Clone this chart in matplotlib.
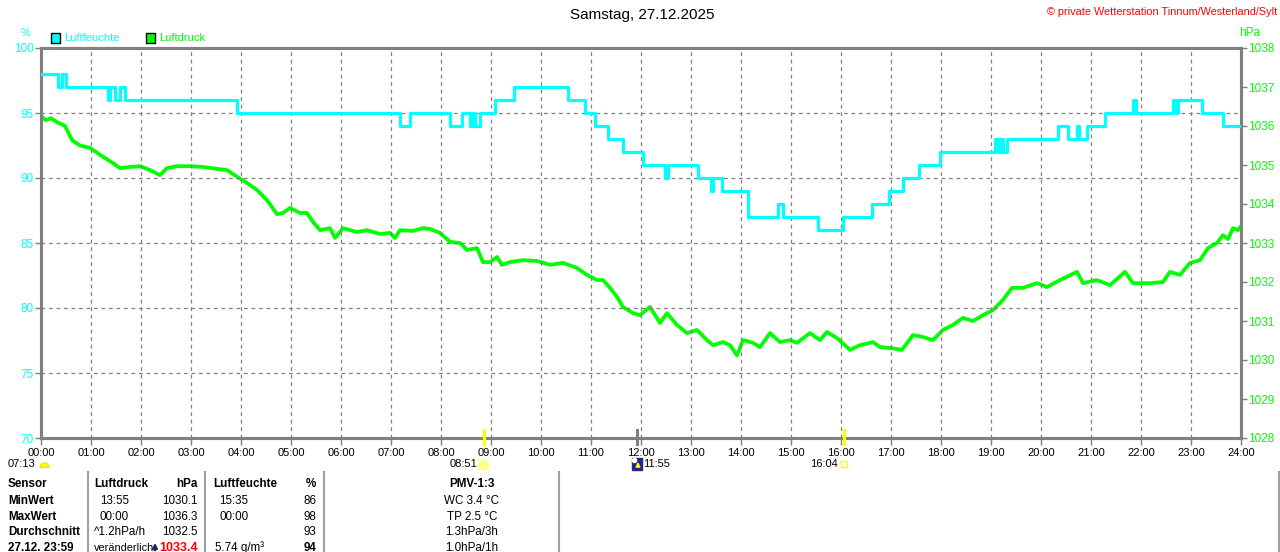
import matplotlib
matplotlib.use('Agg')
import matplotlib.pyplot as plt
from matplotlib.patches import Rectangle, Wedge

plt.rcParams['font.family'] = ['Liberation Sans', 'DejaVu Sans']

# humidity (%) as steps: time in hours, value from that time on
hum_t = [0.00, 0.34, 0.42, 0.50, 1.34, 1.38, 1.48, 1.58, 1.68, 3.92, 7.18, 7.38,
         8.18, 8.42, 8.58, 8.64, 8.68, 8.78, 9.08, 9.46, 10.54, 10.88, 11.08, 11.34,
         11.64, 12.04, 12.48, 12.54, 13.14, 13.40, 13.44, 13.62, 14.14, 14.74, 14.84,
         15.54, 16.04, 16.62, 16.96, 17.24, 17.56, 17.98, 19.08, 19.14, 19.18, 19.24,
         19.32, 20.34, 20.54, 20.72, 20.76, 20.92, 21.28, 21.84, 21.90, 22.64, 22.70,
         22.74, 23.22, 23.64, 24.00]
hum_v = [98, 97, 98, 97, 96, 97, 96, 97, 96, 95, 94, 95,
         94, 95, 94, 95, 94, 95, 96, 97, 96, 95, 94, 93,
         92, 91, 90, 91, 90, 89, 90, 89, 87, 88, 87,
         86, 87, 88, 89, 90, 91, 92, 93, 92, 93, 92,
         93, 94, 93, 94, 93, 94, 95, 96, 95, 96, 95,
         96, 95, 94, 94]

# pressure (hPa)
p_t = [0.00, 0.10, 0.20, 0.32, 0.48, 0.62, 0.78, 0.98, 1.18, 1.44, 1.58, 1.78, 1.98,
       2.18, 2.38, 2.52, 2.72, 2.98, 3.24, 3.52, 3.72, 3.92, 4.12, 4.32, 4.52, 4.72,
       4.84, 4.98, 5.18, 5.32, 5.44, 5.58, 5.78, 5.88, 6.04, 6.32, 6.52, 6.78, 6.98,
       7.08, 7.18, 7.44, 7.64, 7.78, 7.98, 8.18, 8.38, 8.52, 8.72, 8.84, 8.98, 9.12,
       9.22, 9.38, 9.64, 9.92, 10.18, 10.44, 10.72, 10.92, 11.12, 11.24, 11.38, 11.52,
       11.64, 11.84, 11.98, 12.18, 12.38, 12.52, 12.72, 12.92, 13.12, 13.32, 13.44,
       13.64, 13.78, 13.92, 14.04, 14.24, 14.38, 14.58, 14.78, 14.98, 15.12, 15.38,
       15.58, 15.72, 15.92, 16.18, 16.38, 16.64, 16.78, 16.98, 17.22, 17.44, 17.64,
       17.84, 18.04, 18.24, 18.44, 18.64, 18.84, 19.04, 19.24, 19.42, 19.64, 19.92,
       20.12, 20.38, 20.72, 20.84, 21.12, 21.38, 21.68, 21.84, 22.18, 22.44, 22.58,
       22.78, 22.98, 23.18, 23.34, 23.52, 23.64, 23.74, 23.84, 23.94, 23.98]
p_v = [1036.25, 1036.15, 1036.20, 1036.10, 1036.00, 1035.64, 1035.50, 1035.44, 1035.26,
       1035.05, 1034.92, 1034.95, 1034.97, 1034.87, 1034.74, 1034.92, 1034.97, 1034.97,
       1034.95, 1034.90, 1034.87, 1034.70, 1034.54, 1034.36, 1034.10, 1033.74, 1033.77,
       1033.90, 1033.77, 1033.77, 1033.54, 1033.33, 1033.38, 1033.13, 1033.38, 1033.28,
       1033.33, 1033.23, 1033.26, 1033.13, 1033.33, 1033.31, 1033.38, 1033.36, 1033.26,
       1033.03, 1033.00, 1032.82, 1032.87, 1032.51, 1032.51, 1032.64, 1032.44, 1032.51,
       1032.56, 1032.54, 1032.44, 1032.49, 1032.36, 1032.18, 1032.05, 1032.05, 1031.85,
       1031.62, 1031.36, 1031.20, 1031.15, 1031.36, 1030.95, 1031.20, 1030.90, 1030.69,
       1030.77, 1030.51, 1030.38, 1030.46, 1030.38, 1030.12, 1030.51, 1030.44, 1030.33,
       1030.69, 1030.46, 1030.51, 1030.44, 1030.69, 1030.51, 1030.72, 1030.56, 1030.26,
       1030.38, 1030.46, 1030.33, 1030.31, 1030.26, 1030.64, 1030.59, 1030.51, 1030.77,
       1030.90, 1031.08, 1031.00, 1031.15, 1031.28, 1031.54, 1031.85, 1031.85, 1031.97,
       1031.87, 1032.05, 1032.26, 1031.97, 1032.05, 1031.92, 1032.26, 1031.97, 1031.97,
       1032.00, 1032.26, 1032.18, 1032.49, 1032.56, 1032.87, 1033.00, 1033.20, 1033.10,
       1033.38, 1033.33, 1033.40]

hours = list(range(25))
hour_labels = ['%02d:00' % h for h in hours]
sun_events = [8.85, 11.917, 16.067]   # Aufgang, Mittag, Untergang

table_rows = [
    ['MinWert', '13:55', '1030.1', '15:35', '86', 'WC 3.4 °C'],
    ['MaxWert', '00:00', '1036.3', '00:00', '98', 'TP 2.5 °C'],
    ['Durchschnitt', '^1.2hPa/h', '1032.5', '', '93', '1.3hPa/3h'],
]

CYAN = '#00ffff'
GREEN = '#00ff00'
GRAY = '#808080'

W, H = 1280, 552
fig = plt.figure(figsize=(12.8, 5.52), dpi=100)
fig.set_facecolor('white')

ax = fig.add_axes([41 / W, 1 - 438 / H, 1200 / W, 390 / H])
ax2 = ax.twinx()

ax.set_xlim(0, 24)
ax.set_ylim(70, 100)
ax2.set_ylim(1028, 1038)

ax2.plot(p_t, p_v, color=GREEN, lw=2.7, zorder=3)
ax.plot(hum_t, hum_v, color=CYAN, lw=2.3, drawstyle='steps-post', zorder=4)
ax.set_zorder(ax2.get_zorder() + 1)
ax.patch.set_visible(False)

ax.set_xticks(hours)
ax.set_xticklabels(hour_labels, fontsize=8, color='black')
ax.set_yticks([70, 75, 80, 85, 90, 95, 100])
ax.set_yticklabels(['70', '75', '80', '85', '90', '95', '100'], fontsize=8.5, color=CYAN)
ax2.set_yticks(range(1028, 1039))
ax2.set_yticklabels([str(v) for v in range(1028, 1039)], fontsize=8.5, color=GREEN)

ax.tick_params(axis='x', length=5, width=1, color=GRAY, pad=2)
ax.tick_params(axis='y', length=4, width=1, color=GRAY, pad=1)
ax2.tick_params(axis='y', length=4, width=1, color=GRAY, pad=1)

ax.grid(True, color=GRAY, linestyle=(0, (3, 3)), linewidth=0.9)
for a in (ax, ax2):
    for s in a.spines.values():
        s.set_color(GRAY)
        s.set_linewidth(2.2)

# sun event marks on the time axis
for t in sun_events:
    c = GRAY if t == 11.917 else '#ffff00'
    ax.plot([t, t], [-0.015, 0.02], color=c, lw=2.2, transform=ax.get_xaxis_transform(),
            clip_on=False, zorder=6)

# pixel overlay for header, legend, icons and table
ov = fig.add_axes([0, 0, 1, 1], zorder=10)
ov.set_xlim(0, W)
ov.set_ylim(H, 0)
ov.axis('off')
ov.patch.set_visible(False)

ov.text(642, 15, 'Samstag, 27.12.2025', fontsize=11, ha='center', va='center')
ov.text(1277, 12, '© private Wetterstation Tinnum/Westerland/Sylt', fontsize=7.8,
        color='red', ha='right', va='center')
ov.text(26, 33, '%', fontsize=8, color=CYAN, ha='center', va='center')
ov.text(1250, 33, 'hPa', fontsize=8.5, color=GREEN, ha='center', va='center')

ov.add_patch(Rectangle((50.5, 33), 9.5, 9.5, facecolor=CYAN, edgecolor='black', lw=1))
ov.text(64, 38, 'Luftfeuchte', fontsize=8, color=CYAN, ha='left', va='center')
ov.add_patch(Rectangle((145.5, 33), 9.5, 9.5, facecolor=GREEN, edgecolor='black', lw=1))
ov.text(159, 38, 'Luftdruck', fontsize=8, color=GREEN, ha='left', va='center')

# sun / moon line
ov.text(8, 464, '07:13', fontsize=8, ha='left', va='center')
ov.add_patch(Wedge((44.5, 467.5), 4.5, 180, 360, facecolor='#ffff00', edgecolor='#e8e800'))
ov.text(477, 464, '08:51', fontsize=8, ha='right', va='center')
ov.plot([483], [465], marker='o', ms=6, color='#ffff00', mec='#ffff80')
ov.plot([483], [465], marker=(8, 2, 0), ms=11, color='#ffff99', mew=1)
ov.add_patch(Rectangle((632, 458), 10, 12, facecolor='#1c2a80', edgecolor='#1c2a80'))
ov.plot([634], [460], marker='o', ms=3, color='white')
ov.annotate('', xy=(638, 459), xytext=(638, 470),
            arrowprops=dict(arrowstyle='-|>', color='#ffff00', lw=1.2, mutation_scale=6))
ov.text(643, 464, '11:55', fontsize=8, ha='left', va='center')
ov.text(838, 464, '16:04', fontsize=8, ha='right', va='center')
ov.add_patch(Rectangle((841, 461), 6, 6, facecolor='none', edgecolor='#ffff00', lw=1))

# table
for xs in (88, 205, 324, 559, 1279):
    ov.plot([xs, xs], [472, H], color='#a0a0a0', lw=1.5)

FS = 8.4
row_y = [484, 501, 517, 532, 548]
ov.text(8, row_y[0], 'Sensor', fontsize=FS, fontweight='bold', va='center')
ov.text(94, row_y[0], 'Luftdruck', fontsize=FS, fontweight='bold', va='center')
ov.text(198, row_y[0], 'hPa', fontsize=FS, fontweight='bold', va='center', ha='right')
ov.text(213, row_y[0], 'Luftfeuchte', fontsize=FS, fontweight='bold', va='center')
ov.text(316, row_y[0], '%', fontsize=FS, fontweight='bold', va='center', ha='right')
ov.text(472, row_y[0], 'PMV-1:3', fontsize=FS, fontweight='bold', va='center', ha='center')

for y, row in zip(row_y[1:4], table_rows):
    name, pt, pv, ht, hv, pmv = row
    ov.text(8, y, name, fontsize=FS, fontweight='bold', va='center')
    ov.text(94 if pt.startswith('^') else 100, y, pt, fontsize=FS, va='center')
    ov.text(198, y, pv, fontsize=FS, va='center', ha='right')
    ov.text(219, y, ht, fontsize=FS, va='center')
    ov.text(316, y, hv, fontsize=FS, va='center', ha='right')
    ov.text(472, y, pmv, fontsize=FS, va='center', ha='center')

y = row_y[4]
ov.text(8, y, '27.12. 23:59', fontsize=FS, fontweight='bold', va='center')
ov.text(94, y, 'veränderlich', fontsize=7.9, va='center')
ov.annotate('', xy=(155, 540), xytext=(155, 553),
            arrowprops=dict(arrowstyle='-|>', color='#1c2a60', lw=1.6, mutation_scale=7))
ov.text(198, y, '1033.4', fontsize=9, fontweight='bold', color='red', va='center', ha='right')
ov.text(215, y, '5.74 g/m³', fontsize=FS, va='center')
ov.text(316, y, '94', fontsize=FS, fontweight='bold', va='center', ha='right')
ov.text(472, y, '1.0hPa/1h', fontsize=FS, va='center', ha='center')

fig.savefig('out.png', dpi=100, facecolor='white')
